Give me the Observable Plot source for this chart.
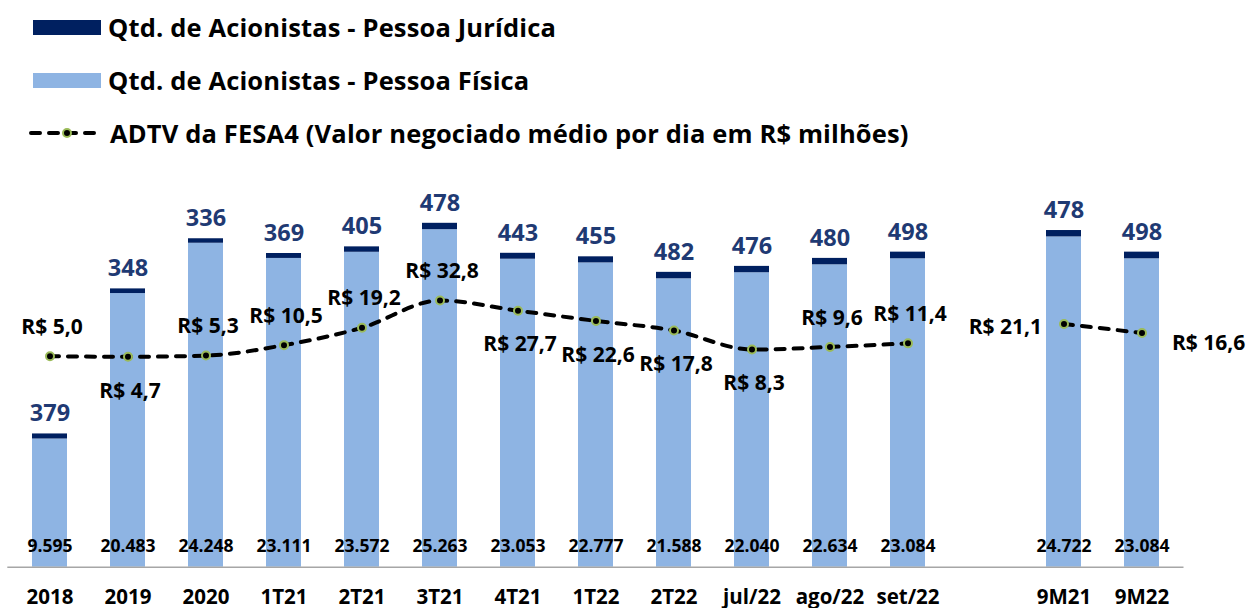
<!DOCTYPE html>
<html><head><meta charset="utf-8">
<script src="https://cdn.jsdelivr.net/npm/d3@7"></script>
<script src="https://cdn.jsdelivr.net/npm/@observablehq/plot@0.6"></script>
<style>
body{margin:0;background:#fff;font-family:"Open Sans",sans-serif;}
#legend{height:150px;position:relative;}
.row{position:absolute;left:0;height:30px;display:flex;align-items:center;font-weight:700;font-size:25.5px;letter-spacing:0.15px;color:#000;white-space:nowrap;}
.sw{width:68px;height:15px;margin-left:33px;margin-right:7px;}
.sym{margin-left:27px;margin-right:5px;}
#chart svg{overflow:visible;}
</style></head><body>
<div id="legend"></div>
<div id="chart"></div>
<script>
const categories = ["2018","2019","2020","1T21","2T21","3T21","4T21","1T22","2T22","jul/22","ago/22","set/22","9M21","9M22"];
const pessoaFisica = [9595,20483,24248,23111,23572,25263,23053,22777,21588,22040,22634,23084,24722,23084];
const pessoaJuridica = [379,348,336,369,405,478,443,455,482,476,480,498,478,498];
const adtv = [5.0,4.7,5.3,10.5,19.2,32.8,27.7,22.6,17.8,8.3,9.6,11.4,21.1,16.6];
const adtvSegment = ["periodo","periodo","periodo","periodo","periodo","periodo","periodo","periodo","periodo","periodo","periodo","periodo","acumulado","acumulado"];
const adtvLabelPlace = ["above","below","above","above","above","above","below","below","below","below","above","above","left","right"];
const legendLabels = ["Qtd. de Acionistas - Pessoa Jurídica","Qtd. de Acionistas - Pessoa Física","ADTV da FESA4 (Valor negociado médio por dia em R$ milhões)"];

const C_PF = "#8EB4E3", C_PJ = "#002060", C_PJTXT = "#1f3a73", C_MARK = "#9BBB59";
const GAP = " ";
const xDomain = [...categories.slice(0,12), GAP, ...categories.slice(12)];

const loc = d3.formatLocale({decimal:",", thousands:".", grouping:[3], currency:["R$ ",""]});
const fInt = loc.format(",d");
const f1 = loc.format(",.1f");

const data = categories.map((c,i)=>({cat:c, pf:pessoaFisica[i], pj:pessoaJuridica[i], adtv:adtv[i], seg:adtvSegment[i], place:adtvLabelPlace[i]}));

// secondary axis mapping for ADTV onto the bar scale
const lineBase = 15045, lineK = 150;
const ly = d => lineBase + lineK*d.adtv;

// legend
const leg = document.getElementById("legend");
const rows = [
  {top:12, html:`<div class="sw" style="background:${C_PJ}"></div>`},
  {top:65, html:`<div class="sw" style="background:${C_PF}"></div>`},
  {top:118, html:`<svg class="sym" width="78" height="20"><line x1="4" x2="76" y1="10" y2="10" stroke="#000" stroke-width="4" stroke-dasharray="9,9" stroke-linecap="round"/><circle cx="40" cy="10" r="4" fill="#000" stroke="${C_MARK}" stroke-width="2"/></svg>`}
];
rows.forEach((r,i)=>{
  const d = document.createElement("div");
  d.className="row"; d.style.top=r.top+"px";
  d.innerHTML = r.html + `<span>${legendLabels[i]}</span>`;
  leg.appendChild(d);
});

const font = {fontFamily:"Open Sans", fontWeight:700};
const place = p => data.filter(d=>d.place===p);
const lbl = d=>"R$ "+f1(d.adtv);

const chart = Plot.plot({
  width:1252, height:458,
  marginTop:0, marginBottom:41.3, marginLeft:7.3, marginRight:68.5,
  style:{fontFamily:"Open Sans", background:"#fff", overflow:"visible"},
  x:{domain:xDomain, paddingInner:0.55, paddingOuter:0.275, axis:null, label:null},
  y:{domain:[0,31190], axis:null},
  marks:[
    Plot.barY(data,{x:"cat", y1:0, y2:"pf", fill:C_PF}),
    Plot.barY(data,{x:"cat", y1:"pf", y2:d=>d.pf+d.pj, fill:C_PJ}),
    Plot.ruleY([0],{stroke:"#a6a6a6", strokeWidth:1.5}),
    Plot.axisX({ticks:categories, tickSize:0, tickPadding:22.5, fontSize:20.5, fontWeight:700, fill:"#000", fontFamily:"Open Sans", label:null}),
    Plot.text(data,{x:"cat", y:d=>d.pf+d.pj, text:d=>fInt(d.pj), dy:-20, fill:C_PJTXT, fontSize:23.5, ...font}),
    Plot.text(data,{x:"cat", y:0, text:d=>fInt(d.pf), dy:-21, fill:"#000", fontSize:17.5, ...font}),
    Plot.line(data,{x:"cat", y:ly, z:"seg", stroke:"#000", strokeWidth:4, strokeDasharray:"9,9", strokeLinecap:"round", curve:"monotone-x"}),
    Plot.dot(data,{x:"cat", y:ly, r:4, fill:"#000", stroke:C_MARK, strokeWidth:2}),
    Plot.text(place("above"),{x:"cat", y:ly, text:lbl, dy:-29, dx:2, fill:"#000", fontSize:21, ...font}),
    Plot.text(place("below"),{x:"cat", y:ly, text:lbl, dy:34, dx:2, fill:"#000", fontSize:21, ...font}),
    Plot.text(place("left"),{x:"cat", y:ly, text:lbl, dy:3, dx:-22, textAnchor:"end", fill:"#000", fontSize:21, ...font}),
    Plot.text(place("right"),{x:"cat", y:ly, text:lbl, dy:10, dx:30, textAnchor:"start", fill:"#000", fontSize:21, ...font})
  ]
});
document.getElementById("chart").appendChild(chart);
</script>
</body></html>
